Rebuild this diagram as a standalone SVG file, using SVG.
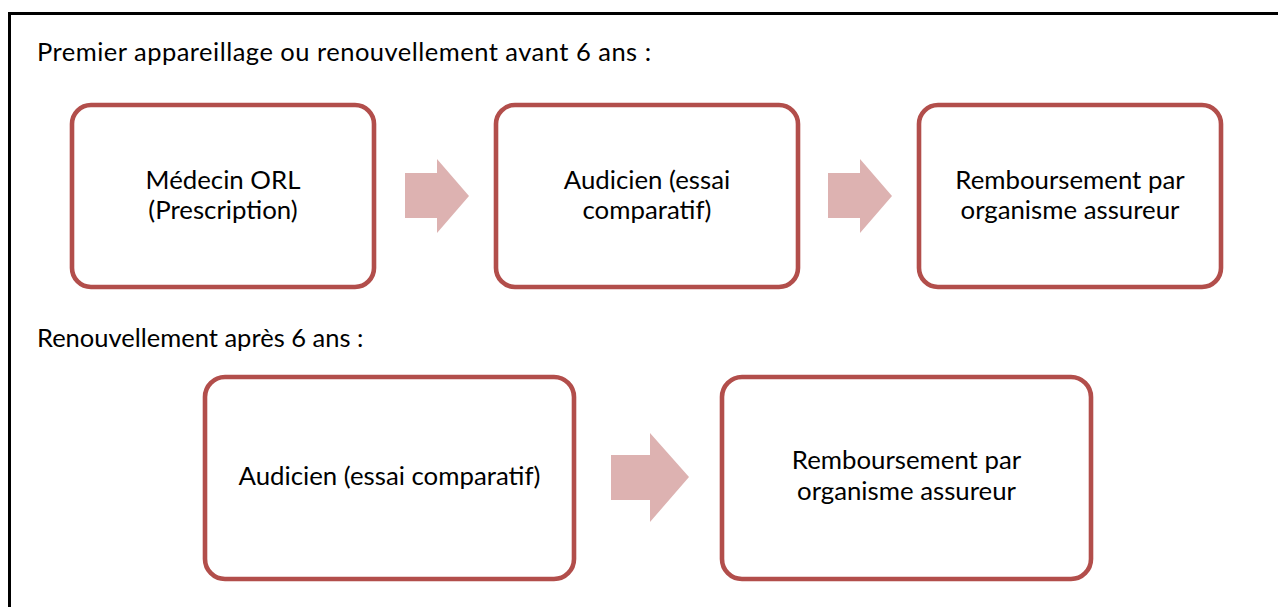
<svg xmlns="http://www.w3.org/2000/svg" width="1278" height="607" viewBox="0 0 1278 607">
<style>
.frame{stroke:#000;stroke-width:3;fill:none}
.box{fill:#fff;stroke:#B24E4B;stroke-width:4.6}
.arrow{fill:#DDB2B1}
.lbl{font-family:Lato,"Liberation Sans",sans-serif;font-size:25.8px;fill:#000;text-anchor:middle}
.hd{font-family:Lato,"Liberation Sans",sans-serif;font-size:25.5px;fill:#000}
</style>
<rect width="1278" height="607" fill="#fff"/>
<g id="frame">
<line class="frame" x1="8" y1="13.5" x2="1278" y2="13.5"/>
<line class="frame" x1="9.5" y1="12" x2="9.5" y2="607"/>
</g>
<g id="headings">
<text class="hd" x="37" y="61" textLength="614" lengthAdjust="spacing">Premier appareillage ou renouvellement avant 6 ans :</text>
<text class="hd" x="37" y="347">Renouvellement après 6 ans :</text>
</g>
<g id="connectors">
<polygon class="arrow" points="405,173 437,173 437,159 469,196 437,233 437,218 405,218"/>
<polygon class="arrow" points="828,173 860,173 860,159 892,196 860,233 860,218 828,218"/>
<polygon class="arrow" points="611,455 650,455 650,433 689,477 650,522 650,500 611,500"/>
</g>
<g id="n1">
<rect class="box" x="72" y="105" width="302" height="182" rx="19"/>
<text class="lbl" x="223" y="189">Médecin ORL</text>
<text class="lbl" x="223" y="219">(Prescription)</text>
</g>
<g id="n2">
<rect class="box" x="496" y="105" width="302" height="182" rx="19"/>
<text class="lbl" x="647" y="189">Audicien (essai</text>
<text class="lbl" x="647" y="219">comparatif)</text>
</g>
<g id="n3">
<rect class="box" x="919" y="105" width="302" height="182" rx="19"/>
<text class="lbl" x="1070" y="189">Remboursement par</text>
<text class="lbl" x="1070" y="219">organisme assureur</text>
</g>
<g id="n4">
<rect class="box" x="205" y="377" width="369" height="202" rx="20"/>
<text class="lbl" x="389.5" y="485">Audicien (essai comparatif)</text>
</g>
<g id="n5">
<rect class="box" x="722" y="377" width="369" height="202" rx="20"/>
<text class="lbl" x="906.5" y="469">Remboursement par</text>
<text class="lbl" x="906.5" y="500">organisme assureur</text>
</g>
</svg>
